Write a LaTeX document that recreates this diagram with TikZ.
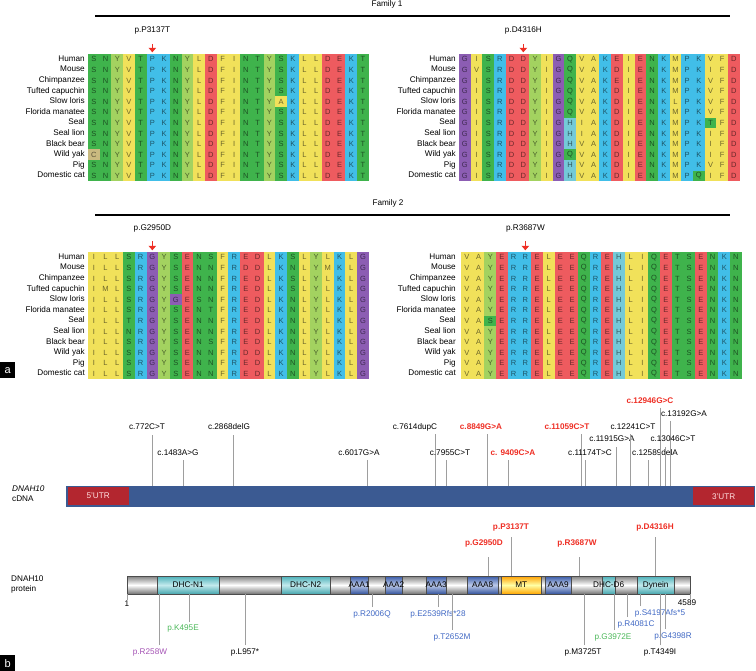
\documentclass[tikz,border=0pt]{standalone}
\usepackage{fontspec}
\setmainfont{Liberation Sans}
\usetikzlibrary{arrows.meta}

% residue colours
\definecolor{hydro}{HTML}{F1E15A}
\definecolor{polar}{HTML}{3FB34C}
\definecolor{tyro}{HTML}{A3D260}
\definecolor{basic}{HTML}{41BEE8}
\definecolor{acid}{HTML}{EE5B5F}
\definecolor{glyc}{HTML}{8C5DB3}
\definecolor{hist}{HTML}{74CAD8}
\definecolor{cyst}{HTML}{C9BA80}
\colorlet{aaA}{hydro}\colorlet{aaV}{hydro}\colorlet{aaI}{hydro}
\colorlet{aaL}{hydro}\colorlet{aaM}{hydro}\colorlet{aaF}{hydro}
\colorlet{aaS}{polar}\colorlet{aaT}{polar}\colorlet{aaN}{polar}\colorlet{aaQ}{polar}
\colorlet{aaY}{tyro}
\colorlet{aaK}{basic}\colorlet{aaR}{basic}\colorlet{aaP}{basic}
\colorlet{aaD}{acid}\colorlet{aaE}{acid}
\colorlet{aaG}{glyc}\colorlet{aaH}{hist}\colorlet{aaC}{cyst}

% other colours
\definecolor{cdnablue}{HTML}{3B5A92}
\definecolor{utrred}{HTML}{B3262F}
\definecolor{mutred}{HTML}{EE2E24}
\definecolor{mutblue}{HTML}{4169C4}
\definecolor{mutgreen}{HTML}{4CB85A}
\definecolor{mutpurple}{HTML}{A452B4}
\definecolor{domcyan}{HTML}{52C3CC}

\newcommand{\labfont}{\fontsize{8.2}{9}\selectfont}
\newcommand{\aafont}{\fontsize{7.5}{8}\selectfont}
\newcommand{\cellw}{11.7}
\newcommand{\cellh}{10.6}

% one alignment block: x0, y0, prefix, rows
\newcommand{\alnpanel}[4]{%
	\foreach \seq [count=\j from 0] in {#4} {
		\foreach \r [count=\i from 0] in \seq
			\node[aa=\r] (#3-\j-\i) at ({#1+(\i+.5)*\cellw},{#2+(\j+.5)*\cellh}) {\r};
	}
}
% species names: right edge, y0, prefix
\newcommand{\species}[3]{%
	\foreach \s [count=\j from 0] in {Human,Mouse,Chimpanzee,Tufted capuchin,Slow loris,Florida manatee,Seal,Seal lion,Black bear,Wild yak,Pig,Domestic cat}
		\node[splab] (#3-\j) at (#1,{#2+(\j+.5)*\cellh}) {\s};
}
% cDNA variant: [style] name, line x, line top, label x, label y, text
\newcommand{\cmut}[7][lab]{%
	\node[#1] (#2) at (#5,#6) {#7};
	\coordinate (#2-top) at (#3,#4);
	\draw[stem] (#2-top) -- (#2-top |- cdna.north);
}
% protein variant: [style] name, line x, line end, bar anchor, label x, label y, text
\newcommand{\pmut}[8][lab]{%
	\node[#1] (#2) at (#6,#7) {#8};
	\coordinate (#2-end) at (#3,#4);
	\draw[stem] (#2-end) -- (#2-end |- prot.#5);
}
% protein domain: name, x1, x2, style, text
\newcommand{\domain}[5]{%
	\node[#4, minimum width={(#3-#2)*1pt}] (#1) at (#2,585) {};
	\node[lab] (#1-t) at (#1.center) {#5};
}

\begin{document}
\begin{tikzpicture}[x=1pt,y=-1pt,
	lab/.style={font=\labfont, inner sep=0pt, text height=5.8pt, text depth=1.6pt},
	splab/.style={lab, anchor=east},
	redlab/.style={lab, text=mutred, font=\labfont\bfseries},
	bluelab/.style={lab, text=mutblue},
	greenlab/.style={lab, text=mutgreen},
	purplelab/.style={lab, text=mutpurple},
	aa/.style={fill=aa#1, text=aa#1!45!black, font=\aafont, inner sep=0pt,
		minimum width=\cellw pt, minimum height=\cellh pt},
	mutarrow/.style={draw=mutred, line width=1.5pt, -{Triangle[width=7.5pt,length=4.5pt]}},
	famline/.style={line width=1.6pt},
	stem/.style={draw=black!38, line width=0.8pt},
	panel/.style={fill=black, text=white, font=\fontsize{11}{11}\selectfont, inner sep=0pt,
		minimum width=15pt, minimum height=16pt, anchor=north west},
	dom/.style={draw=black!70, line width=.4pt, minimum height=18pt, inner sep=0pt, anchor=west},
	graybar/.style={dom, top color=black!50, bottom color=black!55, middle color=white},
	cyandom/.style={dom, top color=domcyan!90!black, bottom color=domcyan!85!black, middle color=domcyan!35},
	bluedom/.style={dom, top color=mutblue!85!black, bottom color=mutblue!80!black, middle color=mutblue!35},
	mtdom/.style={dom, top color=orange!75!yellow, bottom color=orange!70!yellow, middle color=yellow!35},
	]
	\useasboundingbox (0,0) rectangle (756,671);

	%family headers
	\node[lab] (fam1) at (387,4.5) {Family 1};
	\draw[famline] (95,16) -- (730,16);
	\node[lab] (fam2) at (388,203) {Family 2};
	\draw[famline] (95,215) -- (730,215);

	%species
	\species{85}{54}{spa}
	\species{456}{54}{spb}
	\species{85}{252}{spc}
	\species{456}{252}{spd}

	%alignments
	\alnpanel{88}{54}{fa}{
		{S,N,Y,V,T,P,K,N,Y,L,D,F,I,N,T,Y,S,K,L,L,D,E,K,T},
		{S,N,Y,V,T,P,K,N,Y,L,D,F,I,N,T,Y,S,K,L,L,D,E,K,T},
		{S,N,Y,V,T,P,K,N,Y,L,D,F,I,N,T,Y,S,K,L,L,D,E,K,T},
		{S,N,Y,V,T,P,K,N,Y,L,D,F,I,N,T,Y,S,K,L,L,D,E,K,T},
		{S,N,Y,V,T,P,K,N,Y,L,D,F,I,N,T,Y,A,K,L,L,D,E,K,T},
		{S,N,Y,V,T,P,K,N,Y,L,D,F,I,N,T,Y,S,K,L,L,D,E,K,T},
		{S,N,Y,V,T,P,K,N,Y,L,D,F,I,N,T,Y,S,K,L,L,D,E,K,T},
		{S,N,Y,V,T,P,K,N,Y,L,D,F,I,N,T,Y,S,K,L,L,D,E,K,T},
		{S,N,Y,V,T,P,K,N,Y,L,D,F,I,N,T,Y,S,K,L,L,D,E,K,T},
		{C,N,Y,V,T,P,K,N,Y,L,D,F,I,N,T,Y,S,K,L,L,D,E,K,T},
		{S,N,Y,V,T,P,K,N,Y,L,D,F,I,N,T,Y,S,K,L,L,D,E,K,T},
		{S,N,Y,V,T,P,K,N,Y,L,D,F,I,N,T,Y,S,K,L,L,D,E,K,T}}
	\alnpanel{459}{54}{fb}{
		{G,I,S,R,D,D,Y,I,G,Q,V,A,K,E,I,E,N,K,M,P,K,V,F,D},
		{G,V,S,R,D,D,Y,I,G,Q,V,A,K,D,I,E,N,K,M,P,K,I,F,D},
		{G,I,S,R,D,D,Y,I,G,Q,V,A,K,E,I,E,N,K,M,P,K,V,F,D},
		{G,I,S,R,D,D,Y,I,G,Q,V,A,K,D,I,E,N,K,M,P,K,V,F,D},
		{G,I,S,R,D,D,Y,I,G,Q,V,A,K,D,I,E,N,K,L,P,K,V,F,D},
		{G,I,S,R,D,D,Y,I,G,Q,V,A,K,D,I,E,N,K,M,P,K,V,F,D},
		{G,I,S,R,D,D,Y,I,G,H,I,A,K,D,I,E,N,K,M,P,K,T,F,D},
		{G,I,S,R,D,D,Y,I,G,H,I,A,K,D,I,E,N,K,M,P,K,I,F,D},
		{G,I,S,R,D,D,Y,I,G,H,V,A,K,D,I,E,N,K,M,P,K,I,F,D},
		{G,I,S,R,D,D,Y,I,G,Q,V,A,K,D,I,E,N,K,M,P,K,I,F,D},
		{G,I,S,R,D,D,Y,I,G,H,V,A,K,D,I,E,N,K,M,P,K,V,F,D},
		{G,I,S,R,D,D,Y,I,G,H,V,A,K,D,I,E,N,K,M,P,Q,I,F,D}}
	\alnpanel{88}{252}{fc}{
		{I,L,L,S,R,G,Y,S,E,N,S,F,R,E,D,L,K,S,L,Y,L,K,L,G},
		{I,L,L,S,R,G,Y,S,E,N,N,F,R,D,D,L,K,N,L,Y,M,K,L,G},
		{I,L,L,S,R,G,Y,S,E,N,N,F,R,E,D,L,K,S,L,Y,L,K,L,G},
		{I,M,L,S,R,G,Y,S,E,N,N,F,R,E,D,L,K,S,L,Y,L,K,L,G},
		{I,L,L,S,R,G,Y,G,E,S,N,F,R,E,D,L,K,N,L,Y,L,K,L,G},
		{I,L,L,S,R,G,Y,S,E,N,T,F,R,E,D,L,K,N,L,Y,L,K,L,G},
		{I,L,L,T,R,G,Y,S,E,N,N,F,R,E,D,L,K,N,L,Y,L,K,L,G},
		{I,L,L,N,R,G,Y,S,E,N,N,F,R,E,D,L,K,N,L,Y,L,K,L,G},
		{I,L,L,S,R,G,Y,S,E,N,S,F,R,E,D,L,K,N,L,Y,L,K,L,G},
		{I,L,L,S,R,G,Y,S,E,N,N,F,R,D,D,L,K,N,L,Y,L,K,L,G},
		{I,L,L,S,R,G,Y,S,E,N,N,F,R,E,D,L,K,N,L,Y,L,K,L,G},
		{I,L,L,S,R,G,Y,S,E,N,N,F,R,E,D,L,K,N,L,Y,L,K,L,G}}
	\alnpanel{461}{252}{fd}{
		{V,A,Y,E,R,R,E,L,E,E,Q,R,E,H,L,I,Q,E,T,S,E,N,K,N},
		{V,A,Y,E,R,R,E,L,E,E,Q,R,E,H,L,I,Q,E,T,S,E,N,K,N},
		{V,A,Y,E,R,R,E,L,E,E,Q,R,E,H,L,I,Q,E,T,S,E,N,K,N},
		{V,A,Y,E,R,R,E,L,E,E,Q,R,E,H,L,I,Q,E,T,S,E,N,K,N},
		{V,A,Y,E,R,R,E,L,E,E,Q,R,E,H,L,I,Q,E,T,S,E,N,K,N},
		{V,A,Y,E,R,R,E,L,E,E,Q,R,E,H,L,I,Q,E,T,S,E,N,K,N},
		{V,A,S,E,R,R,E,L,E,E,Q,R,E,H,L,I,Q,E,T,S,E,N,K,N},
		{V,A,Y,E,R,R,E,L,E,E,Q,R,E,H,L,I,Q,E,T,S,E,N,K,N},
		{V,A,Y,E,R,R,E,L,E,E,Q,R,E,H,L,I,Q,E,T,S,E,N,K,N},
		{V,A,Y,E,R,R,E,L,E,E,Q,R,E,H,L,I,Q,E,T,S,E,N,K,N},
		{V,A,Y,E,R,R,E,L,E,E,Q,R,E,H,L,I,Q,E,T,S,E,N,K,N},
		{V,A,Y,E,R,R,E,L,E,E,Q,R,E,H,L,I,Q,E,T,S,E,N,K,N}}

	%mutated sites
	\node[lab] (aP3137T) at (152.4,30) {p.P3137T};
	\draw[mutarrow] ([yshift=10pt]fa-0-5.north) -- ([yshift=1.5pt]fa-0-5.north);
	\node[lab] (aD4316H) at (523.4,30) {p.D4316H};
	\draw[mutarrow] ([yshift=10pt]fb-0-5.north) -- ([yshift=1.5pt]fb-0-5.north);
	\node[lab] (aG2950D) at (152.4,228) {p.G2950D};
	\draw[mutarrow] ([yshift=11pt]fc-0-5.north) -- ([yshift=1.5pt]fc-0-5.north);
	\node[lab] (aR3687W) at (525.4,228) {p.R3687W};
	\draw[mutarrow] ([yshift=11pt]fd-0-5.north) -- ([yshift=1.5pt]fd-0-5.north);

	%panel letters
	\node[panel] (pa) at (0,362) {a};
	\node[panel] (pb) at (0,655) {b};

	%cDNA
	\node[lab, anchor=west] (cdnaname) at (12,489) {\itshape DNAH10};
	\node[lab, anchor=west] (cdnaword) at (12,499) {cDNA};
	\node[fill=cdnablue, inner sep=0pt, minimum width=689pt, minimum height=21.5pt, anchor=north west] (cdna) at (66,485.5) {};
	\node[fill=utrred, text=white!88!red, font=\labfont, inner sep=0pt, minimum width=61pt, minimum height=18.5pt, anchor=west] (utr5) at (67.5,496.2) {5'UTR};
	\node[fill=utrred, text=white!88!red, font=\labfont, inner sep=0pt, minimum width=61pt, minimum height=18.5pt, anchor=west] (utr3) at (693,496.2) {3'UTR};

	\cmut{c772}{152}{435}{147}{427}{c.772C>T}
	\cmut{c1483}{183}{460}{178}{453}{c.1483A>G}
	\cmut{c2868}{233}{435}{229}{427}{c.2868delG}
	\cmut{c6017}{367}{460}{359}{453}{c.6017G>A}
	\cmut{c7614}{435}{434}{415}{427}{c.7614dupC}
	\cmut{c7955}{446}{460}{450}{453}{c.7955C>T}
	\cmut[redlab]{c8849}{487}{434}{481}{427}{c.8849G>A}
	\cmut[redlab]{c9409}{508}{460}{513}{453}{c. 9409C>A}
	\cmut[redlab]{c11059}{581}{434}{567}{427}{c.11059C>T}
	\cmut{c11174}{585}{460}{590}{453}{c.11174T>C}
	\cmut{c11915}{616}{447}{612}{439}{c.11915G>A}
	\cmut{c12241}{630}{434}{633}{427}{c.12241C>T}
	\cmut{c12589}{648}{460}{655}{453}{c.12589delA}
	\cmut[redlab]{c12946}{660}{408}{650}{401}{c.12946G>C}
	\cmut{c13192}{670}{421}{684}{414}{c.13192G>A}
	\cmut{c13046}{665}{447}{673}{439}{c.13046C>T}

	%protein
	\node[lab, anchor=west] (protname) at (11,579) {DNAH10};
	\node[lab, anchor=west] (protword) at (11,589.5) {protein};
	\node[graybar, minimum width=563pt] (prot) at (127,585) {};
	\domain{dn1}{157}{219}{cyandom}{DHC-N1}
	\domain{dn2}{281}{330}{cyandom}{DHC-N2}
	\domain{aaa1}{350}{368}{bluedom}{AAA1}
	\domain{aaa2}{385}{402}{bluedom}{AAA2}
	\domain{aaa3}{426}{446}{bluedom}{AAA3}
	\domain{aaa8}{467}{498}{bluedom}{AAA8}
	\domain{mt}{501}{541}{mtdom}{MT}
	\domain{aaa9}{545}{571}{bluedom}{AAA9}
	\domain{dd6}{602}{615}{cyandom}{DHC-D6}
	\domain{dyn}{637}{674}{cyandom}{Dynein}

	\node[lab] (pstart) at (127,604) {1};
	\draw[stem] (prot.south west) -- (prot.south west |- pstart.north);
	\node[lab] (pend) at (687,603) {4589};
	\draw[stem] (prot.south east) -- (prot.south east |- pend.north);

	\pmut[redlab]{pG2950D}{488}{557}{north}{484}{543}{p.G2950D}
	\pmut[redlab]{pP3137T}{511}{537}{north}{511}{527}{p.P3137T}
	\pmut[redlab]{pR3687W}{579}{557}{north}{577}{543}{p.R3687W}
	\pmut[redlab]{pD4316H}{655}{537}{north}{655}{527}{p.D4316H}

	\pmut[purplelab]{pR258W}{159}{645}{south}{150}{652}{p.R258W}
	\pmut[greenlab]{pK495E}{189}{622}{south}{183}{628}{p.K495E}
	\pmut{pL957}{245}{645}{south}{245}{652}{p.L957*}
	\pmut[bluelab]{pR2006Q}{372}{607}{south}{372}{614}{p.R2006Q}
	\pmut[bluelab]{pE2539}{438}{607}{south}{438}{614}{p.E2539Rfs*28}
	\pmut[bluelab]{pT2652M}{452}{630}{south}{452}{637}{p.T2652M}
	\pmut{pM3725T}{584}{645}{south}{583}{652}{p.M3725T}
	\pmut[greenlab]{pG3972E}{614}{630}{south}{613}{637}{p.G3972E}
	\pmut[bluelab]{pR4081C}{627}{617}{south}{636}{624}{p.R4081C}
	\pmut[bluelab]{pS4197}{640}{606}{south}{660}{613}{p.S4197Afs*5}
	\pmut[bluelab]{pG4398R}{665}{629}{south}{673}{636}{p.G4398R}
	\pmut{pT4349I}{660}{645}{south}{660}{652}{p.T4349I}
\end{tikzpicture}
\end{document}
